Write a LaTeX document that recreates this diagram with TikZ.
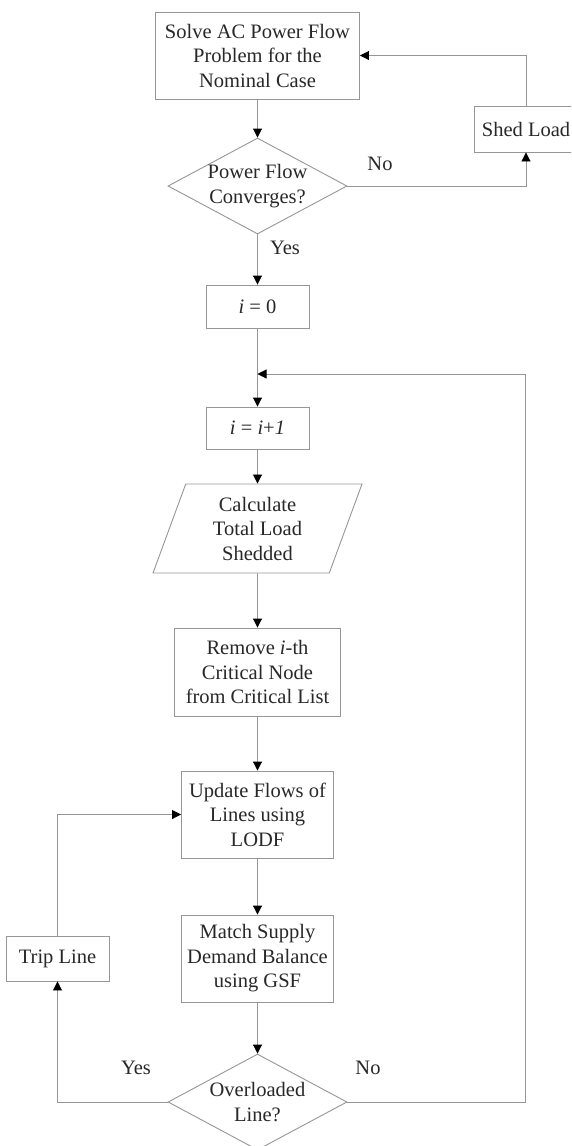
\documentclass[tikz,border=0pt]{standalone}
\usepackage{fontspec}
\setmainfont{Liberation Serif}
\usetikzlibrary{shapes.geometric,arrows.meta}
\definecolor{linegray}{RGB}{150,150,150}
\definecolor{textgray}{RGB}{40,40,40}
\begin{document}
\begin{tikzpicture}[x=1pt,y=-1pt,
  every node/.style={font=\fontsize{20.5}{24.5}\selectfont, text=textgray, align=center},
  box/.style={draw=linegray, line width=0.9pt, inner sep=0pt},
  dia/.style={draw=linegray, line width=0.9pt, diamond, inner sep=-4pt, shape aspect=1.85, minimum width=179pt, minimum height=96pt},
  slanted/.style={draw=linegray, line width=0.9pt, trapezium, trapezium left angle=62.7, trapezium right angle=117.3, trapezium stretches body, inner sep=0pt},
  conn/.style={draw=linegray, line width=0.9pt},
  arr/.style={conn, -{Triangle[length=9pt,width=9pt,color=black]}},
  lbl/.style={inner sep=0pt}
]
\useasboundingbox (0,0) rectangle (571,1146);
\clip (0,0) rectangle (571,1146);

\node[box, minimum width=204pt, minimum height=87pt] (solve) at (257.5,55.5) {Solve AC Power Flow\\Problem for the\\Nominal Case};
\node[dia] (conv) at (257.5,186) {Power Flow\\Converges?};
\node[box, minimum width=104pt, minimum height=46pt] (shed) at (526,129) {Shed Load};
\node[box, minimum width=103pt, minimum height=43pt] (izero) at (257.5,306.5) {\textit{i} = 0};
\node[box, minimum width=103pt, minimum height=42pt] (iinc) at (257.5,428) {\textit{i} = \textit{i}+\textit{1}};
\node[slanted, minimum width=209pt, minimum height=89pt] (calc) at (257.5,528.5) {Calculate\\Total Load\\Shedded};
\node[box, minimum width=166pt, minimum height=88pt] (remove) at (257.5,672) {Remove \textit{i}-th\\Critical Node\\from Critical List};
\node[box, minimum width=152pt, minimum height=87pt] (update) at (257.5,814.5) {Update Flows of\\Lines using\\LODF};
\node[box, minimum width=152pt, minimum height=87pt] (match) at (257.5,958.5) {Match Supply\\Demand Balance\\using GSF};
\node[dia] (over) at (257.5,1102) {Overloaded\\Line?};
\node[box, minimum width=103pt, minimum height=45pt] (trip) at (57.5,958.5) {Trip Line};

\coordinate (jn) at (257.5,374);
\coordinate (loop) at (525,374);

\node[lbl] (no1) at (380,164) {No};
\node[lbl] (yes1) at (285,248) {Yes};
\node[lbl] (yes2) at (136,1068) {Yes};
\node[lbl] (no2) at (368,1068) {No};

\draw[arr] (solve) -- (conv);
\draw[arr] (conv.east) -| (shed.south);
\draw[arr] (shed.north) |- (solve.east);
\draw[arr] (conv.south) -- (izero.north);
\draw[arr] (izero.south) -- (iinc.north);
\draw[arr] (iinc.south) -- (calc.north);
\draw[arr] (calc.south) -- (remove.north);
\draw[arr] (remove.south) -- (update.north);
\draw[arr] (update.south) -- (match.north);
\draw[arr] (match.south) -- (over.north);
\draw[arr] (over.east) -| (loop) -- (jn);
\draw[arr] (over.west) -| (trip.south);
\draw[arr] (trip.north) |- (update.west);
\end{tikzpicture}
\end{document}
